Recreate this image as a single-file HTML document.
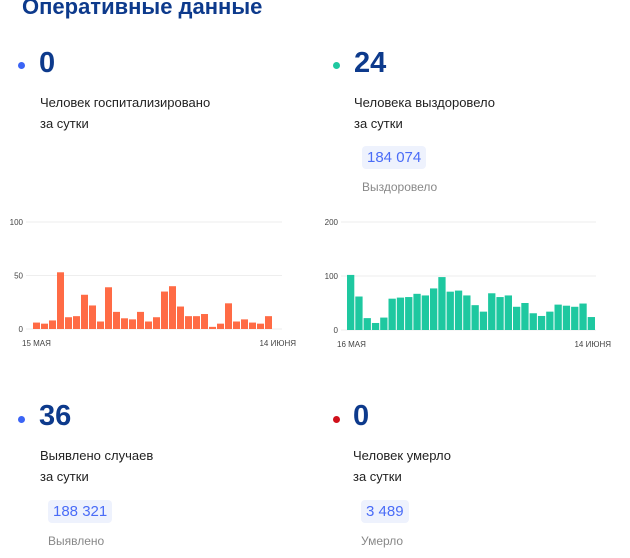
<!DOCTYPE html>
<html><head><meta charset="utf-8">
<style>
body{margin:0;width:630px;height:558px;background:#fff;font-family:"Liberation Sans",sans-serif;position:relative;overflow:hidden}
.a{position:absolute;white-space:nowrap}
.title{left:22px;top:-6px;font-size:22px;font-weight:bold;color:#0d3a8c}
.dot{width:7px;height:7px;border-radius:50%}
.num{font-size:29px;font-weight:bold;color:#0d3a8c}
.lbl{font-size:13px;color:#222;line-height:21px}
.badge{background:#eef2fd;color:#4a6cf7;font-size:15px;padding:3px 5px;border-radius:4px}
.sub{font-size:12px;color:#888}
svg{position:absolute;left:0;top:0}
</style></head><body>
<div class="a title">Оперативные данные</div>

<div class="a dot" style="left:18px;top:62px;background:#3b64f5"></div>
<div class="a num" style="left:39px;top:47px">0</div>
<div class="a lbl" style="left:40px;top:92px">Человек госпитализировано<br>за сутки</div>

<div class="a dot" style="left:333px;top:62px;background:#1ec8a0"></div>
<div class="a num" style="left:354px;top:47px">24</div>
<div class="a lbl" style="left:354px;top:92px">Человека выздоровело<br>за сутки</div>
<div class="a badge" style="left:362px;top:146px">184 074</div>
<div class="a sub" style="left:362px;top:180px">Выздоровело</div>

<div class="a dot" style="left:18px;top:416px;background:#3b64f5"></div>
<div class="a num" style="left:39px;top:400px">36</div>
<div class="a lbl" style="left:40px;top:445px">Выявлено случаев<br>за сутки</div>
<div class="a badge" style="left:48px;top:500px">188 321</div>
<div class="a sub" style="left:48px;top:534px">Выявлено</div>

<div class="a dot" style="left:333px;top:416px;background:#d0101b"></div>
<div class="a num" style="left:353px;top:400px">0</div>
<div class="a lbl" style="left:353px;top:445px">Человек умерло<br>за сутки</div>
<div class="a badge" style="left:361px;top:500px">3 489</div>
<div class="a sub" style="left:361px;top:534px">Умерло</div>

<svg id="c" width="630" height="558"></svg>
<script>
const hospValues=[6,5,8,53,11,12,32,22,7,39,16,10,9,16,7,11,35,40,21,12,12,14,2,5,24,7,9,6,5,12];
const hospTicks=[0,50,100];
const hospDates=["15 МАЯ","14 ИЮНЯ"];
const recValues=[102,62,22,13,23,58,60,61,67,64,77,98,71,73,64,46,34,68,61,64,43,50,31,26,34,47,45,43,49,24];
const recTicks=[0,100,200];
const recDates=["16 МАЯ","14 ИЮНЯ"];
const NS="http://www.w3.org/2000/svg";
const svg=document.getElementById('c');
function mk(t,a){const e=document.createElementNS(NS,t);for(const k in a)e.setAttribute(k,a[k]);svg.appendChild(e);return e;}
function chart(vals,ticks,dates,x0,x1,y0,y1,max,color,gx0,gx1,lx,dx0,dx1,name){
  const y=v=>y0-(v/max)*(y0-y1);
  ticks.forEach(t=>{
    const l=mk('line',{x1:gx0,x2:gx1,y1:y(t),y2:y(t),stroke:'#eee','stroke-width':1});
    
    
    const tx=mk('text',{x:lx,y:y(t)+3,'font-size':8,fill:'#444','text-anchor':'end'});
    tx.textContent=t;
    
    
  });
  const bw=(x1-x0)/vals.length;
  vals.forEach((v,i)=>{
    const r=mk('rect',{x:x0+i*bw,y:y(v),width:bw-1,height:y0-y(v),fill:color});
    
    
  });
  const a=mk('text',{x:dx0,y:y0+17,'font-size':8,fill:'#444'});a.textContent=dates[0];
  
  
  const b=mk('text',{x:dx1,y:y0+17,'font-size':8,fill:'#444','text-anchor':'end'});b.textContent=dates[1];
  
  
}
chart(hospValues,hospTicks,hospDates,33,273,329,222,100,'#ff6b45',26,282,23,22,296,'hospitalized-chart');
chart(recValues,recTicks,recDates,347,596,330,222,200,'#1ec8a0',341,596,338,337,611,'recovered-chart');
</script>
</body></html>
